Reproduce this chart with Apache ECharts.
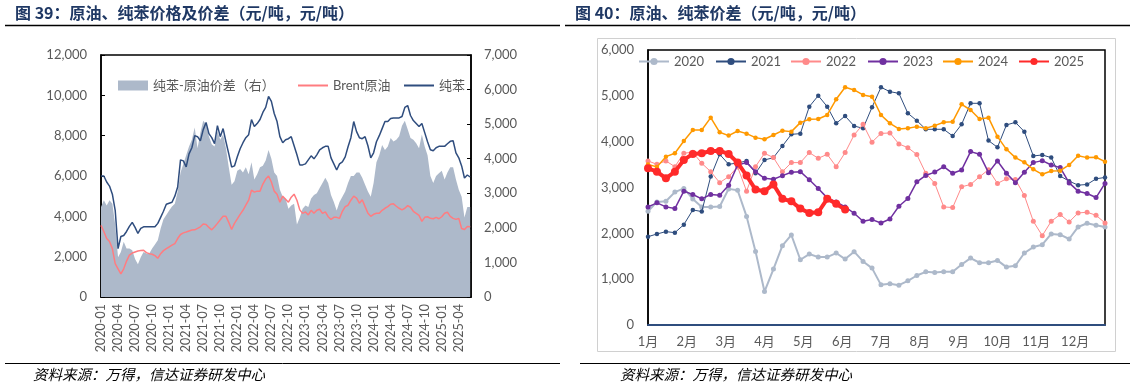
<!DOCTYPE html>
<html><head><meta charset="utf-8">
<script src="https://cdn.jsdelivr.net/npm/echarts@6/dist/echarts.min.js"></script>
<style>html,body{margin:0;padding:0;background:#fff}#c{width:1132px;height:388px}</style>
</head><body><div id="c"></div>
<script>
// ---------- Left chart data (half-month samples from 2020-01) ----------
const benzene = [6000,6000,5700,5500,5100,4300,2400,3000,3050,3250,
3500,3700,3450,3150,3400,3480,3480,3480,3480,3480,
3650,3950,4250,4600,4650,4700,5000,5450,6800,6750,
6450,7100,7400,8000,7950,7750,8300,8650,8100,7900,
7600,8500,7950,8350,7700,7100,6450,6500,6950,7350,
7650,7900,8050,8800,8450,8600,8800,9150,9400,9950,
9700,9100,8700,7950,7650,7800,7850,7950,7500,7050,
6550,6550,6600,6800,7000,6850,7050,7300,7400,7470,
7470,6900,6600,6300,6600,6700,6950,7450,7900,8700,
8200,7900,7850,7950,7500,6900,7150,7700,8000,8350,
8700,8700,8850,8880,8880,8880,8950,9400,9495,9000,
8750,8600,8450,8600,8150,7700,7300,7250,7400,7470,
7470,7470,7600,7720,7750,7150,6900,6500,5900,6050,5950];
const brent = [3550,3250,2900,2750,2400,1650,1400,1150,1400,1780,
2075,2180,2230,2280,2300,2320,2200,2150,2120,2050,
1920,2150,2300,2400,2480,2570,2650,2900,3100,3180,
3220,3270,3320,3330,3400,3480,3620,3600,3450,3330,
3480,3650,3830,4000,4000,3700,3350,3650,3870,4100,
4300,4550,4800,5300,5200,5250,5250,5600,5850,6000,
5700,5250,5100,4700,5000,4850,4700,4950,5100,4800,
4320,4150,4220,4070,4300,4150,4300,4350,4150,4220,
3980,3850,3950,3950,3900,4250,4480,4550,4800,5000,
4900,4650,4820,4480,4150,4000,4100,4150,4150,4300,
4400,4480,4600,4620,4500,4400,4320,4400,4530,4450,
4250,4150,4050,3750,3950,3980,3900,3880,3950,3880,
3980,4150,4200,4000,3900,3850,3900,3400,3350,3500,3480];
const spread = [2600,2800,2650,2800,2700,2100,1150,1300,1600,1400,
1400,1350,1100,950,1150,1300,1260,1260,1400,1520,
1640,1980,2250,2370,2500,2620,2700,3050,3600,3850,
4100,4350,4550,4900,4300,4750,5100,5000,4650,4420,
4350,4800,4550,4700,4300,3750,3250,3350,3650,3700,
3600,3750,3550,3900,3400,3550,3750,3800,3950,4250,
4000,3600,3500,3100,2900,2850,2550,2650,2700,2100,
2300,2550,2650,2600,2850,2950,3000,3150,3300,3450,
3300,2950,2750,2500,2750,2900,3050,3300,3500,3500,
3600,3600,3450,3250,3050,2900,3300,3900,4100,4400,
4250,4350,4600,4500,4550,4650,4950,5100,4850,4600,
4550,4450,4300,4700,4350,4100,3500,3300,3500,3580,
3650,3400,3600,3750,3750,3400,3100,2900,2300,2600,2600];
const leftTickLabels = ['2020-01','2020-04','2020-07','2020-10','2021-01','2021-04','2021-07','2021-10',
'2022-01','2022-04','2022-07','2022-10','2023-01','2023-04','2023-07','2023-10',
'2024-01','2024-04','2024-07','2024-10','2025-01','2025-04'];

// ---------- Right chart data (weekly, 52 weeks) ----------
const monthLabels = ['1月','2月','3月','4月','5月','6月','7月','8月','9月','10月','11月','12月'];
const y2020 = [2482,2686,2700,2900,2980,2750,2577,2577,2584,2970,2940,2370,1606,730,1220,1730,1964,1424,1548,1482,1482,1570,1438,1600,1387,1241,876,898,869,964,1080,1160,1146,1160,1160,1321,1460,1358,1358,1409,1263,1292,1570,1700,1752,1986,1971,1876,2139,2219,2175,2139];
const y2021 = [1927,1986,2037,2015,2190,2511,2475,3240,3724,3506,3535,3579,3310,3600,3652,3906,4160,4175,4764,5004,4764,4400,4560,4342,4291,4750,5186,5091,5055,4619,4459,4270,4270,4270,4124,4379,4837,4837,4023,3877,4364,4422,4219,3688,3710,3652,3249,3139,3051,3066,3190,3219];
const y2022 = [3579,3506,3579,3455,3750,3768,3528,3346,3106,3237,3450,2920,3455,3746,3652,3346,3543,3543,3761,3637,3724,3455,3761,4146,4380,3990,4180,4190,3950,3870,3720,3310,3090,2577,2562,3015,3066,3234,3390,3088,3190,3175,2825,2263,1949,2263,2409,2248,2445,2460,2394,2226];
const y2023 = [2577,2665,2577,2540,2920,2847,2752,2847,2832,3051,3492,3543,3346,3201,3179,3259,3332,3346,3170,2978,2774,2686,2577,2438,2263,2300,2226,2314,2591,2759,3124,3263,3336,3455,3310,3383,3783,3724,3324,3579,3310,3106,3332,3543,3586,3492,3434,3100,2920,2869,2781,3088];
const y2024 = [3500,3450,3673,3746,4015,4255,4255,4524,4204,4132,4233,4175,4088,4052,4146,4240,4219,4415,4488,4495,4582,4924,5186,5128,5019,4982,4582,4400,4277,4291,4328,4291,4350,4422,4437,4815,4691,4495,4524,4110,3833,3652,3550,3397,3288,3361,3368,3492,3695,3652,3659,3564];
const y2025 = [3419,3346,3201,3346,3601,3732,3746,3797,3797,3732,3543,3260,2957,2920,3066,2752,2701,2540,2445,2460,2752,2643,2518];

const HALF_MONTH = 0.5;
const WEEK = 12 / 52;
const toPairs = (arr, step) => arr.map((v, i) => [i * step, v]);
const fmtNum = v => v.toLocaleString('en-US');

const FONT = 'Lato, "Noto Sans CJK SC", sans-serif';
const CJK = '"Noto Sans CJK SC", sans-serif';
const GREY = '#595959';

const chart = echarts.init(document.getElementById('c'), null, {renderer: 'canvas'});

function legendAt(name, left, top, extra) {
  return Object.assign({
    data: [name], left: left, top: top, itemWidth: 30, itemHeight: 9, itemGap: 5, padding: 0,
    textStyle: {fontFamily: FONT, fontSize: 13, color: GREY}, selectedMode: false
  }, extra || {});
}
function headText(txt, x, y, size, weight, color, style) {
  return {type: 'text', x: x, y: y, silent: true,
    style: {text: txt, fontFamily: CJK, fontSize: size, fontWeight: weight, fontStyle: style || 'normal',
      fill: color, textVerticalAlign: 'middle', textAlign: 'left'}};
}

const option = {
  animation: false,
  backgroundColor: '#fff',
  graphic: [
    headText('图 39：原油、纯苯价格及价差（元/吨，元/吨）', 15, 13, 16, 'bold', '#1f3864'),
    headText('图 40：原油、纯苯价差（元/吨，元/吨）', 575, 13, 16, 'bold', '#1f3864'),
    headText('资料来源：万得，信达证券研发中心', 33, 374, 14.5, 'normal', '#000', 'italic'),
    headText('资料来源：万得，信达证券研发中心', 620, 374, 14.5, 'normal', '#000', 'italic'),
    {type: 'line', shape: {x1: 5, y1: 25.5, x2: 560, y2: 25.5}, style: {stroke: '#000', lineWidth: 1.5}},
    {type: 'line', shape: {x1: 565, y1: 25.5, x2: 1130, y2: 25.5}, style: {stroke: '#000', lineWidth: 1.5}},
    {type: 'line', shape: {x1: 5, y1: 363.5, x2: 560, y2: 363.5}, style: {stroke: '#000', lineWidth: 1}},
    {type: 'line', shape: {x1: 580, y1: 363.5, x2: 1130, y2: 363.5}, style: {stroke: '#000', lineWidth: 1}},
    {type: 'rect', shape: {x: 597.5, y: 38.5, width: 518, height: 313}, style: {stroke: '#d0d0d0', fill: null, lineWidth: 1}, z: -1}
  ],
  legend: [
    legendAt('纯苯-原油价差（右）', 118, 79, {icon: 'rect', itemHeight: 10}),
    legendAt('Brent原油', 298, 79, {icon: 'rect', itemHeight: 2}),
    legendAt('纯苯', 404, 79, {icon: 'rect', itemHeight: 2}),
    legendAt('2020', 638, 55),
    legendAt('2021', 715, 55),
    legendAt('2022', 790, 55),
    legendAt('2023', 867, 55),
    legendAt('2024', 942, 55),
    legendAt('2025', 1018, 55)
  ],
  grid: [
    {left: 101, top: 55, width: 370, height: 242, show: true, borderColor: '#000', borderWidth: 1.5, backgroundColor: 'transparent'},
    {left: 648, top: 50, width: 457, height: 275, show: true, borderColor: '#000', borderWidth: 1.5, backgroundColor: 'transparent'}
  ],
  xAxis: [
    {type: 'value', gridIndex: 0, min: 0, max: 65.15, interval: 3,
     axisLine: {show: true, lineStyle: {color: '#000', width: 1.5}},
     axisTick: {show: true, inside: true, length: 4, lineStyle: {color: '#000'}},
     splitLine: {show: false},
     axisLabel: {rotate: 90, margin: 7, fontFamily: FONT, fontSize: 12.5, color: GREY, showMaxLabel: false,
       formatter: v => leftTickLabels[Math.round(v / 3)] || ''}},
    {type: 'value', gridIndex: 1, min: 0, max: 51 * WEEK, interval: 1,
     axisLine: {show: true, lineStyle: {color: '#2f4d7e', width: 2}},
     axisTick: {show: false}, splitLine: {show: false},
     axisLabel: {margin: 10, fontFamily: FONT, fontSize: 13, color: GREY, showMaxLabel: false,
       formatter: v => monthLabels[Math.round(v)] || ''}}
  ],
  yAxis: [
    {type: 'value', gridIndex: 0, min: 0, max: 12000, interval: 2000,
     axisLine: {show: true, lineStyle: {color: '#000', width: 1.5}},
     axisTick: {show: true, inside: true, length: 4, lineStyle: {color: '#000'}},
     splitLine: {show: false},
     axisLabel: {margin: 14, fontFamily: FONT, fontSize: 13, color: GREY, formatter: fmtNum}},
    {type: 'value', gridIndex: 0, position: 'right', min: 0, max: 7000, interval: 1000,
     axisLine: {show: true, lineStyle: {color: '#000', width: 1.5}},
     axisTick: {show: true, inside: true, length: 4, lineStyle: {color: '#000'}},
     splitLine: {show: false},
     axisLabel: {margin: 13, fontFamily: FONT, fontSize: 13, color: GREY, formatter: fmtNum}},
    {type: 'value', gridIndex: 1, min: 0, max: 6000, interval: 1000,
     axisLine: {show: true, lineStyle: {color: '#000', width: 1.5}},
     axisTick: {show: false}, splitLine: {show: false},
     axisLabel: {margin: 14, fontFamily: FONT, fontSize: 13, color: GREY, formatter: fmtNum}}
  ],
  series: [
    {name: '纯苯-原油价差（右）', type: 'line', xAxisIndex: 0, yAxisIndex: 1, data: toPairs(spread, HALF_MONTH),
     symbol: 'none', lineStyle: {width: 0, color: '#adb9ca'}, itemStyle: {color: '#adb9ca'},
     areaStyle: {color: '#adb9ca', opacity: 1}, z: 1},
    {name: 'Brent原油', type: 'line', xAxisIndex: 0, yAxisIndex: 0, data: toPairs(brent, HALF_MONTH),
     symbol: 'none', lineStyle: {width: 1.5, color: '#ff7c80'}, itemStyle: {color: '#ff7c80'}, z: 3},
    {name: '纯苯', type: 'line', xAxisIndex: 0, yAxisIndex: 0, data: toPairs(benzene, HALF_MONTH),
     symbol: 'none', lineStyle: {width: 1.5, color: '#2f4d7e'}, itemStyle: {color: '#2f4d7e'}, z: 4},

    {name: '2020', type: 'line', xAxisIndex: 1, yAxisIndex: 2, data: toPairs(y2020, WEEK),
     symbol: 'circle', symbolSize: 5, lineStyle: {width: 2, color: '#adb9ca'}, itemStyle: {color: '#adb9ca'}, z: 2},
    {name: '2021', type: 'line', xAxisIndex: 1, yAxisIndex: 2, data: toPairs(y2021, WEEK),
     symbol: 'circle', symbolSize: 4.5, lineStyle: {width: 1, color: '#2f4d7e'}, itemStyle: {color: '#2f4d7e'}, z: 3},
    {name: '2022', type: 'line', xAxisIndex: 1, yAxisIndex: 2, data: toPairs(y2022, WEEK),
     symbol: 'circle', symbolSize: 5, lineStyle: {width: 1, color: '#ff8a8a'}, itemStyle: {color: '#ff8a8a'}, z: 4},
    {name: '2023', type: 'line', xAxisIndex: 1, yAxisIndex: 2, data: toPairs(y2023, WEEK),
     symbol: 'circle', symbolSize: 5, lineStyle: {width: 1.5, color: '#7030a0'}, itemStyle: {color: '#7030a0'}, z: 5},
    {name: '2024', type: 'line', xAxisIndex: 1, yAxisIndex: 2, data: toPairs(y2024, WEEK),
     symbol: 'circle', symbolSize: 4.5, lineStyle: {width: 1.5, color: '#ff9900'}, itemStyle: {color: '#ff9900'}, z: 6},
    {name: '2025', type: 'line', xAxisIndex: 1, yAxisIndex: 2, data: toPairs(y2025, WEEK),
     symbol: 'circle', symbolSize: 8, lineStyle: {width: 4, color: '#ff2a2a'}, itemStyle: {color: '#ff2a2a'}, z: 7}
  ]
};
chart.setOption(option);
</script>
</body></html>
